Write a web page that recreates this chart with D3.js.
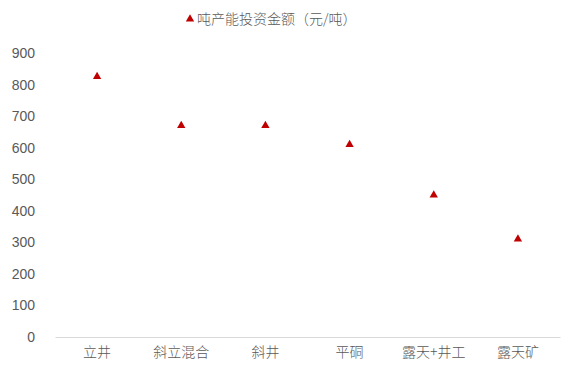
<!DOCTYPE html>
<html>
<head>
<meta charset="utf-8">
<script src="https://cdn.jsdelivr.net/npm/d3@7"></script>
<style>
  html, body { margin: 0; padding: 0; background: #fff; }
  svg { display: block; }
</style>
</head>
<body>
<svg id="chart" width="563" height="367"></svg>
<script>
// Investment per tonne of capacity by mining method
const categories = ["立井", "斜立混合", "斜井", "平硐", "露天+井工", "露天矿"];
const investPerTon = [825, 670, 670, 610, 450, 310];
const yTicks = [0, 100, 200, 300, 400, 500, 600, 700, 800, 900];
const seriesName = "吨产能投资金额（元/吨）";

const svg = d3.select("#chart");
const W = 563, H = 367;
const margin = { left: 55, right: 3, top: 53, bottom: 30 };

const x = d3.scaleBand()
  .domain(categories)
  .range([margin.left, W - margin.right])
  .padding(0);

const y = d3.scaleLinear()
  .domain([0, 900])
  .range([H - margin.bottom, margin.top]);

const cjk = "'Noto Sans CJK SC', 'Noto Sans', sans-serif";
const latin = "'Liberation Sans', Arial, sans-serif";
const markColor = "#c00000";

// Y axis: labels only
const yAxis = svg.append("g")
  .attr("transform", `translate(${margin.left},0)`)
  .call(d3.axisLeft(y).tickValues(yTicks).tickSize(0).tickPadding(20));
yAxis.select(".domain").remove();
yAxis.selectAll("text")
  .attr("fill", "#595959")
  .style("font-family", latin)
  .style("font-size", "14px");

// X axis baseline and category labels
const xAxis = svg.append("g")
  .attr("transform", `translate(0,${y(0)})`)
  .call(d3.axisBottom(x).tickSize(0).tickPadding(10));
xAxis.select(".domain").attr("stroke", "#d9d9d9").attr("stroke-width", 1);
xAxis.selectAll("text")
  .attr("fill", "#595959")
  .style("font-family", cjk)
  .style("font-weight", "300")
  .style("font-size", "14px");

// Triangle markers
const tri = d3.symbol().type(d3.symbolTriangle).size(30);
svg.append("g")
  .selectAll("path")
  .data(categories.map((c, i) => ({ c, v: investPerTon[i] })))
  .join("path")
  .attr("d", tri)
  .attr("fill", markColor)
  .attr("transform", d => `translate(${x(d.c) + x.bandwidth() / 2},${y(d.v)})`);

// Legend at top
const legend = svg.append("g").attr("transform", "translate(190,19)");
legend.append("path")
  .attr("d", tri)
  .attr("fill", markColor);
legend.append("text")
  .attr("x", 7)
  .attr("y", 0)
  .attr("dy", "0.35em")
  .attr("fill", "#595959")
  .style("font-family", cjk)
  .style("font-weight", "300")
  .style("font-size", "14px")
  .text(seriesName);
</script>
</body>
</html>
